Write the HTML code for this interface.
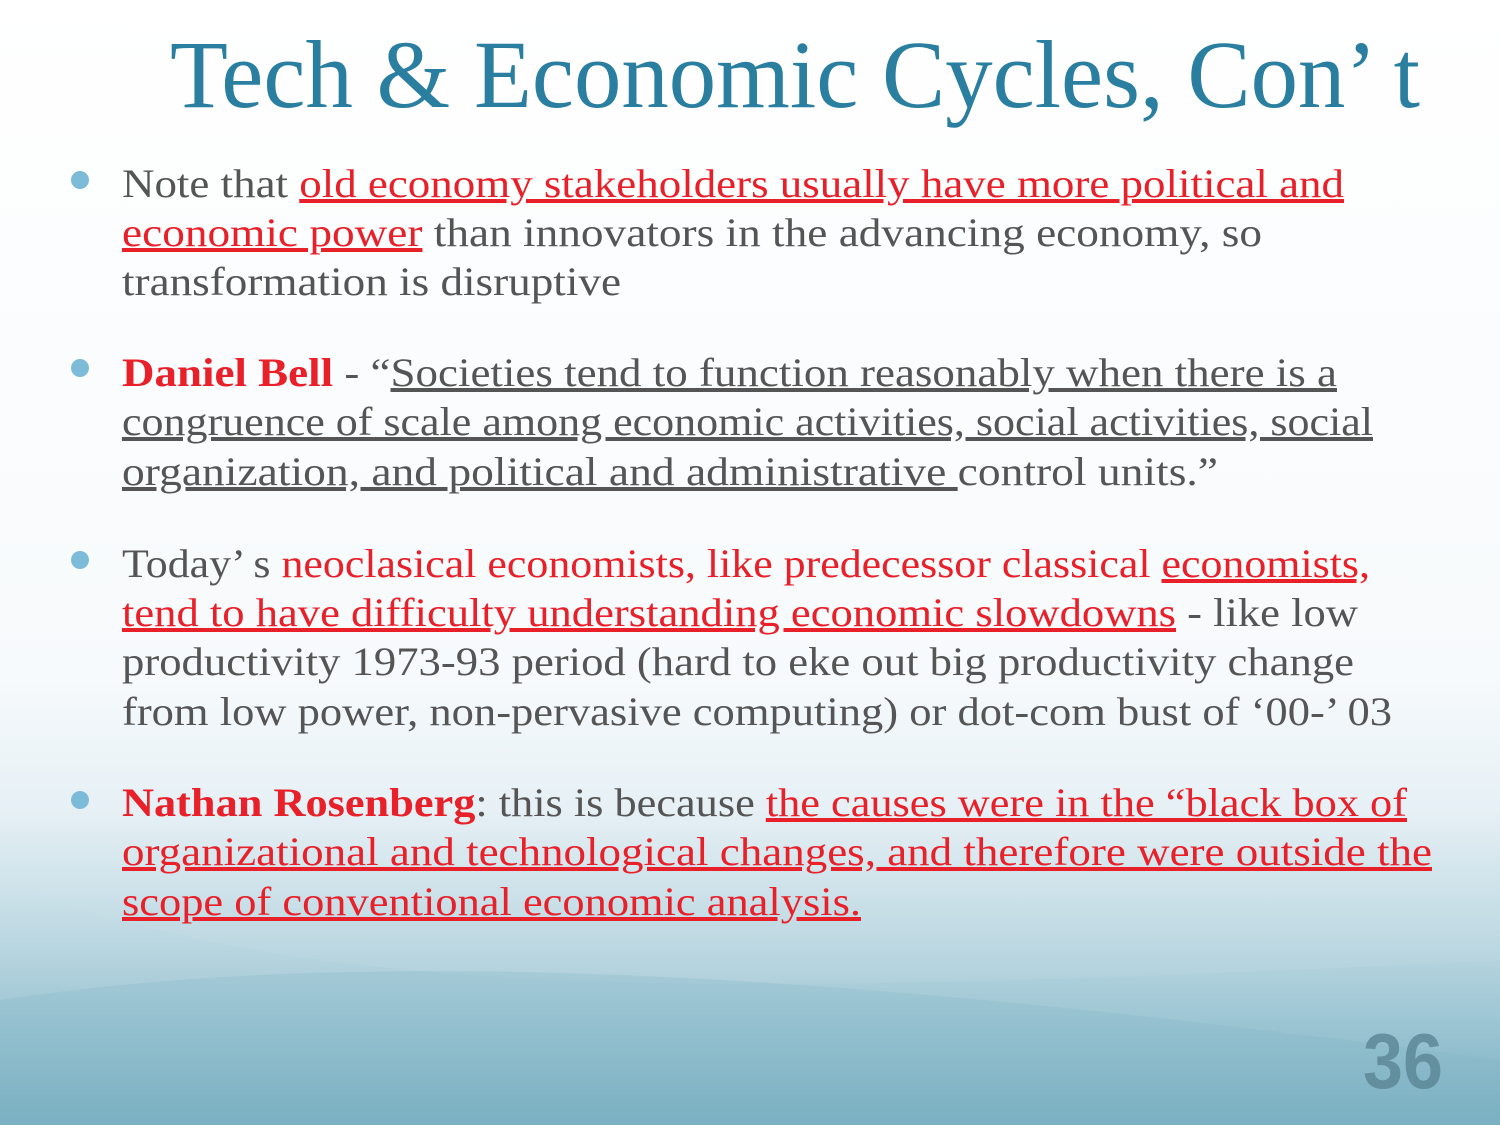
<!DOCTYPE html>
<html><head><meta charset="utf-8">
<style>
html,body{margin:0;padding:0;}
body{width:1500px;height:1125px;overflow:hidden;}
svg{display:block;}
.t{font-family:"Liberation Serif",serif;font-size:40px;fill:#555;}
.r{fill:#e8202a;}
.u{text-decoration:underline;}
.b{font-weight:bold;}
</style></head>
<body>
<svg width="1500" height="1125" viewBox="0 0 1500 1125">
<defs>
<linearGradient id="bg" x1="0" y1="0" x2="0" y2="1">
<stop offset="0" stop-color="#ffffff"/>
<stop offset="0.6" stop-color="#f7fafc"/>
<stop offset="0.72" stop-color="#e6f0f5"/>
<stop offset="0.85" stop-color="#b9d6e0"/>
<stop offset="1" stop-color="#7eb3c5"/>
</linearGradient>
<linearGradient id="w1" x1="0" y1="0" x2="0" y2="1">
<stop offset="0" stop-color="#a6ccd9" stop-opacity="0.0"/>
<stop offset="1" stop-color="#6fa9bd" stop-opacity="0.7"/>
</linearGradient>
</defs>
<rect width="1500" height="1125" fill="url(#bg)"/>
<path d="M0 880 C300 1000 700 1000 1500 960 L1500 1125 L0 1125 Z" fill="url(#w1)" opacity="0.5"/>
<path d="M0 1000 C400 940 900 980 1500 1060 L1500 1125 L0 1125 Z" fill="#7fb3c4" opacity="0.25"/>

<text x="170" y="107" textLength="1250" lengthAdjust="spacingAndGlyphs" style="font-family:'Liberation Serif',serif;font-size:96px;fill:#2a7fa0;">Tech &amp; Economic Cycles, Con’ t</text>

<g fill="#7dbcd8">
<circle cx="80" cy="180" r="9"/>
<circle cx="80" cy="368" r="9"/>
<circle cx="80" cy="560" r="9"/>
<circle cx="80" cy="800" r="9"/>
</g>

<g>
<text class="t" x="122" y="197" textLength="1222" lengthAdjust="spacingAndGlyphs">Note that <tspan class="r u">old economy stakeholders usually have more political and</tspan></text>
<text class="t" x="122" y="246" textLength="1140" lengthAdjust="spacingAndGlyphs"><tspan class="r u">economic power</tspan> than innovators in the advancing economy, so</text>
<text class="t" x="122" y="295" textLength="499" lengthAdjust="spacingAndGlyphs">transformation is disruptive</text>
</g>
<g>
<text class="t" x="122" y="386" textLength="1215" lengthAdjust="spacingAndGlyphs"><tspan class="r b">Daniel Bell</tspan> - “<tspan class="u">Societies tend to function reasonably when there is a</tspan></text>
<text class="t u" x="122" y="435" textLength="1251" lengthAdjust="spacingAndGlyphs">congruence of scale among economic activities, social activities, social</text>
<text class="t" x="122" y="485" textLength="1096" lengthAdjust="spacingAndGlyphs"><tspan class="u">organization, and political and administrative </tspan>control units.”</text>
</g>
<g>
<text class="t" x="122" y="577" textLength="1248" lengthAdjust="spacingAndGlyphs">Today’ s <tspan class="r">neoclasical economists, like predecessor classical </tspan><tspan class="r u">economists,</tspan></text>
<text class="t" x="122" y="626" textLength="1236" lengthAdjust="spacingAndGlyphs"><tspan class="r u">tend to have difficulty understanding economic slowdowns</tspan> - like low</text>
<text class="t" x="122" y="675" textLength="1232" lengthAdjust="spacingAndGlyphs">productivity 1973-93 period (hard to eke out big productivity change</text>
<text class="t" x="122" y="725" textLength="1270" lengthAdjust="spacingAndGlyphs">from low power, non-pervasive computing) or dot-com bust of  ‘00-’ 03</text>
</g>
<g>
<text class="t" x="122" y="816" textLength="1285" lengthAdjust="spacingAndGlyphs"><tspan class="r b">Nathan Rosenberg</tspan>: this is because <tspan class="r u">the causes were in the “black box of</tspan></text>
<text class="t r u" x="122" y="865" textLength="1310" lengthAdjust="spacingAndGlyphs">organizational and technological changes, and therefore were outside the</text>
<text class="t r u" x="122" y="915" textLength="739" lengthAdjust="spacingAndGlyphs">scope of conventional economic analysis.</text>
</g>

<text x="1363" y="1088" textLength="80" lengthAdjust="spacingAndGlyphs" style="font-family:'Liberation Sans Narrow','Liberation Sans',sans-serif;font-weight:bold;font-size:78px;fill:#5a8594;opacity:0.8;">36</text>
</svg>
</body></html>
